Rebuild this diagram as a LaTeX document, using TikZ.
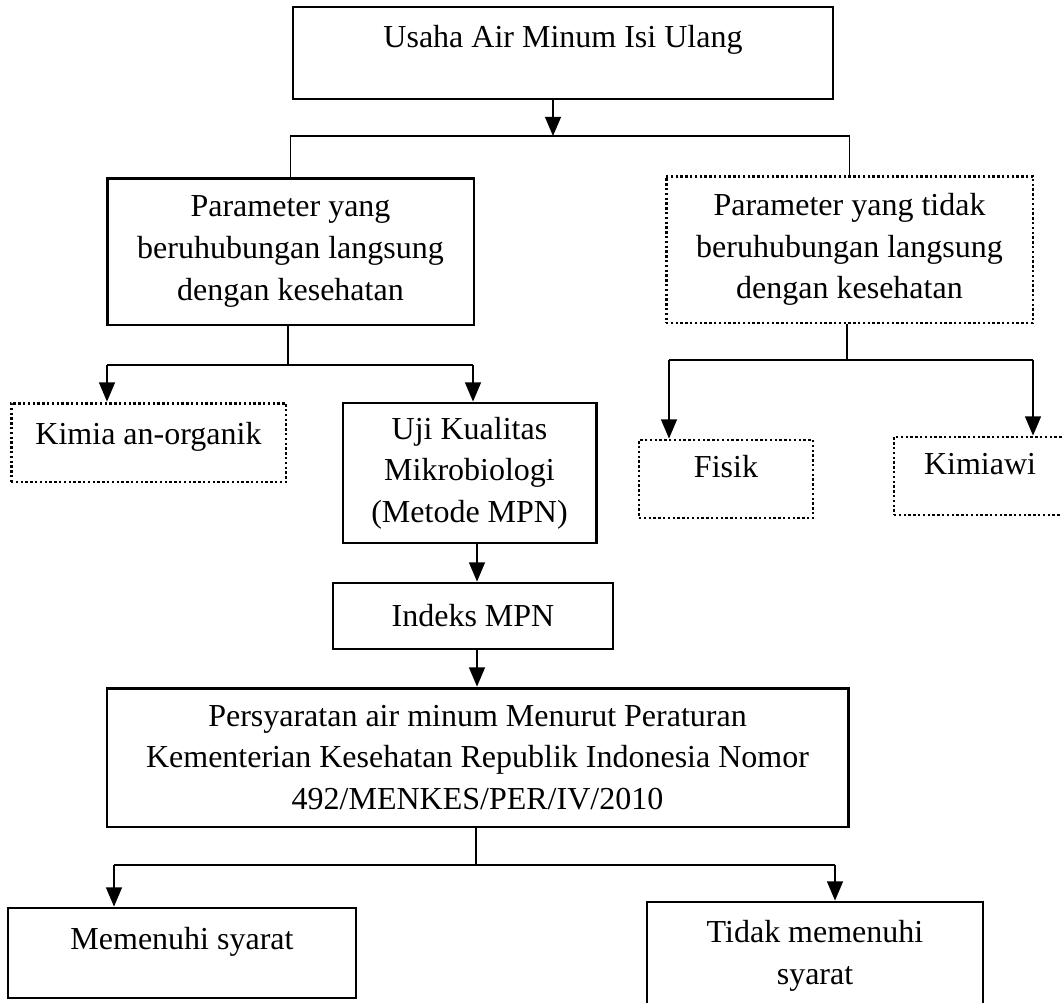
\documentclass[tikz,border=0pt]{standalone}
\usepackage{fontspec}
\setmainfont{Liberation Serif}
\usetikzlibrary{arrows.meta}
\tikzset{
  box/.style={draw,rectangle,line width=1.1pt,inner sep=0pt,align=center,
    font=\fontsize{12pt}{15.6pt}\selectfont},
  dotbox/.style={box,line width=1.1pt,dash pattern=on 0.9pt off 0.9pt},
  liftup/.style={text height=8pt,text depth=#1},
  arr/.style={line width=0.5pt,-{Triangle[width=6pt,length=7.2pt]}},
  link/.style={line width=0.5pt}
}

\begin{document}
\begin{tikzpicture}[x=0.375pt,y=-0.375pt]
  \useasboundingbox (0,0) rectangle (1062,1002);
  % boxes
  \node[box,minimum width=202.5pt,minimum height=34.5pt,liftup=12pt] (usaha) at (563,53)
    {Usaha Air Minum Isi Ulang};
  \node[box,minimum width=137.6pt,minimum height=55.1pt] (pl) at (290.5,251.5)
    {Parameter yang\\ beruhubungan langsung\\ dengan kesehatan};
  \node[dotbox,minimum width=137.6pt,minimum height=55.1pt] (pr) at (849.5,249.5)
    {Parameter yang tidak\\ beruhubungan langsung\\ dengan kesehatan};
  \node[dotbox,minimum width=103.1pt,minimum height=29.6pt,liftup=6.8pt] (kim) at (148.5,442.5)
    {Kimia an-organik};
  \node[box,minimum width=94.9pt,minimum height=52.5pt] (uji) at (469.5,473)
    {Uji Kualitas\\ Mikrobiologi\\ (Metode MPN)};
  \node[dotbox,minimum width=65.25pt,minimum height=29.25pt,liftup=9.5pt] (fis) at (726,479)
    {Fisik};
  \node[dotbox,minimum width=64.5pt,minimum height=29.25pt,liftup=9.5pt] (kmw) at (980,476)
    {Kimiawi};
  \node[box,minimum width=105pt,minimum height=24.75pt] (idx) at (473,616)
    {Indeks MPN};
  \node[box,minimum width=277.9pt,minimum height=52.1pt] (per) at (477.5,757.5)
    {Persyaratan air minum Menurut Peraturan\\
     Kementerian Kesehatan Republik Indonesia Nomor\\
     492/MENKES/PER/IV/2010};
  \node[box,minimum width=130.5pt,minimum height=33.75pt,liftup=11pt] (mem) at (182,953)
    {Memenuhi syarat};
  \node[box,minimum width=126pt,minimum height=40.5pt] (tdk) at (815,956)
    {Tidak memenuhi\\ syarat};

  % junctions
  \coordinate (j0) at (553,136);
  \coordinate (j1) at (288,365);
  \coordinate (k1) at (107,365);
  \coordinate (k2) at (473,365);
  \coordinate (j2) at (847,360);
  \coordinate (f1) at (669,360);
  \coordinate (f2) at (1033,360);
  \coordinate (c1) at (477,0);
  \coordinate (j3) at (476,865);
  \coordinate (m1) at (114,865);
  \coordinate (t1) at (835,865);

  % connectors
  \draw[arr] (usaha.south -| j0) -- (j0);
  \draw[link] (pl.north) |- (j0) -| (pr.north);

  \draw[link] (pl.south -| j1) -- (j1);
  \draw[link] (k1) -- (k2);
  \draw[arr] (k1) -- (k1 |- kim.north);
  \draw[arr] (k2) -- (k2 |- uji.north);

  \draw[link] (pr.south -| j2) -- (j2);
  \draw[link] (f1) -- (f2);
  \draw[arr] (f1) -- (f1 |- fis.north);
  \draw[arr] (f2) -- (f2 |- kmw.north);

  \draw[arr] (uji.south -| c1) -- (idx.north -| c1);
  \draw[arr] (idx.south -| c1) -- (per.north -| c1);

  \draw[link] (per.south -| j3) -- (j3);
  \draw[link] (m1) -- (t1);
  \draw[arr] (m1) -- (m1 |- mem.north);
  \draw[arr] (t1) -- (t1 |- tdk.north);
\end{tikzpicture}
\end{document}
